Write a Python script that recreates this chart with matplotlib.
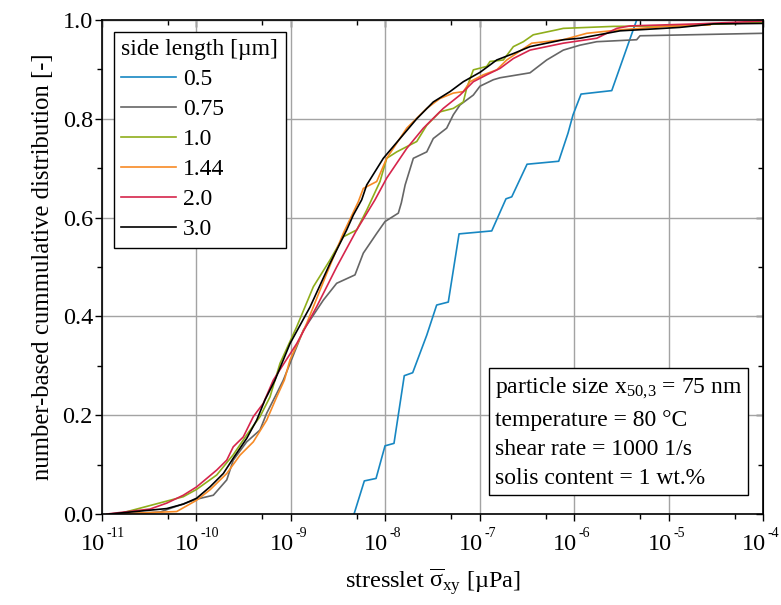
import numpy as np
import matplotlib.pyplot as plt
from matplotlib.ticker import LogLocator, MultipleLocator, FormatStrFormatter, NullFormatter
from matplotlib.transforms import blended_transform_factory, ScaledTranslation

plt.rcParams['font.family'] = 'Liberation Serif'
plt.rcParams['mathtext.fontset'] = 'custom'
plt.rcParams['mathtext.rm'] = 'Liberation Serif'
plt.rcParams['mathtext.it'] = 'Liberation Serif:italic'
plt.rcParams['mathtext.bf'] = 'Liberation Serif:bold'
plt.rcParams['axes.unicode_minus'] = False

FS = 17

# log10 of stresslet [uPa] and cumulative distribution, per side length
logx_05 = [-8.331, -8.222, -8.098, -8.003, -7.908, -7.799, -7.710, -7.561, -7.456, -7.333,
           -7.219, -6.873, -6.722, -6.661, -6.499, -6.164, -6.065, -6.012, -5.927, -5.602, -5.338]
cdf_05 = [0.0, 0.067, 0.072, 0.138, 0.143, 0.280, 0.286, 0.362, 0.423, 0.429,
          0.567, 0.573, 0.638, 0.642, 0.708, 0.714, 0.771, 0.808, 0.850, 0.857, 1.0]

logx_075 = [-10.76, -10.386, -9.997, -9.821, -9.679, -9.610, -9.468, -9.327, -9.256, -9.150,
            -9.080, -8.868, -8.656, -8.515, -8.321, -8.233, -8.091, -8.003, -7.862, -7.83,
            -7.79, -7.703, -7.561, -7.492, -7.350, -7.280, -7.209, -7.068, -6.997, -6.856,
            -6.785, -6.468, -6.291, -6.115, -5.938, -5.761, -5.338, -5.303, -4.0]
cdf_075 = [0.0, 0.004, 0.030, 0.038, 0.069, 0.109, 0.146, 0.170, 0.204, 0.244,
           0.271, 0.372, 0.433, 0.467, 0.484, 0.528, 0.568, 0.592, 0.609, 0.630,
           0.666, 0.720, 0.733, 0.760, 0.781, 0.808, 0.828, 0.848, 0.866, 0.879,
           0.883, 0.893, 0.919, 0.939, 0.949, 0.956, 0.960, 0.968, 0.973]

logx_10 = [-10.83, -10.139, -9.997, -9.785, -9.610, -9.468, -9.327, -9.221, -9.115, -8.938,
           -8.762, -8.586, -8.445, -8.303, -8.197, -8.056, -7.985, -7.879, -7.738, -7.667,
           -7.561, -7.421, -7.280, -7.174, -7.138, -7.068, -6.926, -6.891, -6.750, -6.644,
           -6.538, -6.433, -6.185, -6.115, -5.585, -5.020, -4.0]
cdf_10 = [0.0, 0.035, 0.050, 0.079, 0.120, 0.160, 0.197, 0.237, 0.305, 0.379,
          0.460, 0.514, 0.561, 0.575, 0.615, 0.673, 0.720, 0.733, 0.747, 0.754,
          0.787, 0.814, 0.821, 0.834, 0.862, 0.899, 0.906, 0.916, 0.919, 0.946,
          0.956, 0.970, 0.980, 0.983, 0.987, 0.988, 0.995]

logx_144 = [-10.86, -10.209, -9.997, -9.856, -9.679, -9.539, -9.398, -9.256, -9.150, -9.069,
            -9.009, -8.832, -8.620, -8.445, -8.286, -8.233, -8.091, -7.985, -7.773, -7.561,
            -7.421, -7.280, -7.174, -7.103, -6.962, -6.820, -6.714, -6.450, -6.115, -5.867,
            -5.514, -5.020, -4.561]
cdf_144 = [0.0, 0.005, 0.028, 0.049, 0.082, 0.119, 0.146, 0.190, 0.237, 0.271,
           0.312, 0.386, 0.487, 0.568, 0.632, 0.659, 0.673, 0.720, 0.781, 0.821,
           0.841, 0.852, 0.855, 0.875, 0.889, 0.899, 0.919, 0.953, 0.960, 0.973,
           0.980, 0.987, 0.990]

logx_20 = [-10.947, -10.492, -10.315, -10.139, -9.997, -9.891, -9.785, -9.679, -9.610, -9.504,
           -9.398, -9.292, -9.186, -8.938, -8.726, -8.515, -8.303, -8.109, -7.985, -7.773,
           -7.597, -7.386, -7.209, -7.068, -6.926, -6.785, -6.644, -6.468, -6.115, -5.761,
           -5.549, -5.409, -4.702, -4.103, -4.0]
cdf_20 = [0.0, 0.010, 0.022, 0.038, 0.055, 0.072, 0.089, 0.109, 0.136, 0.156,
          0.197, 0.224, 0.271, 0.345, 0.420, 0.500, 0.575, 0.636, 0.680, 0.740,
          0.781, 0.821, 0.848, 0.875, 0.889, 0.902, 0.922, 0.939, 0.953, 0.963,
          0.983, 0.988, 0.992, 0.997, 0.998]

logx_30 = [-10.92, -10.315, -10.139, -9.997, -9.856, -9.715, -9.610, -9.468, -9.362, -9.274,
           -9.168, -9.009, -8.797, -8.586, -8.409, -8.339, -8.250, -8.197, -8.021, -7.844,
           -7.667, -7.492, -7.315, -7.174, -6.997, -6.820, -6.644, -6.468, -6.291, -6.115,
           -5.938, -5.514, -5.232, -4.879, -4.526, -4.0]
cdf_30 = [0.0, 0.011, 0.020, 0.032, 0.055, 0.082, 0.113, 0.153, 0.190, 0.231,
          0.271, 0.345, 0.419, 0.507, 0.575, 0.605, 0.636, 0.666, 0.720, 0.760,
          0.800, 0.834, 0.855, 0.875, 0.894, 0.919, 0.932, 0.946, 0.953, 0.960,
          0.963, 0.978, 0.981, 0.985, 0.992, 0.993]

labels = ['0.5', '0.75', '1.0', '1.44', '2.0', '3.0']
colors = ['#1787c2', '#666666', '#8fae1b', '#f78a25', '#d6254c', '#000000']
series = [(logx_05, cdf_05), (logx_075, cdf_075), (logx_10, cdf_10),
          (logx_144, cdf_144), (logx_20, cdf_20), (logx_30, cdf_30)]
x_decades = [-11, -10, -9, -8, -7, -6, -5, -4]

fig = plt.figure(figsize=(7.81, 6.05), dpi=100)
ax = fig.add_axes([0.1306, 0.1504, 0.8464, 0.8166])

for (lx, c), lab, col in zip(series, labels, colors):
    ax.plot(10 ** np.array(lx), c, color=col, lw=1.2, label=lab)

ax.set_xscale('log')
ax.set_xlim(1e-11, 1e-4)
ax.set_ylim(0, 1)
ax.grid(True, which='major', color='#a3a3a3', lw=1.0)
ax.set_axisbelow(True)

ax.xaxis.set_major_locator(LogLocator(base=10, numticks=20))
ax.xaxis.set_minor_locator(LogLocator(base=10, subs=(5.0,), numticks=20))
ax.xaxis.set_major_formatter(NullFormatter())
ax.xaxis.set_minor_formatter(NullFormatter())
ax.yaxis.set_major_locator(MultipleLocator(0.2))
ax.yaxis.set_minor_locator(MultipleLocator(0.1))
ax.yaxis.set_major_formatter(FormatStrFormatter('%.1f'))
ax.tick_params(which='both', direction='out', labelsize=17.5, width=1, pad=1.5)
ax.tick_params(which='major', length=5)
ax.tick_params(which='minor', length=3.5)

# x tick labels as 10 with a small raised exponent
trans = blended_transform_factory(ax.transData, ax.transAxes)
for e in x_decades:
    ax.text(10.0 ** e, 0, '10', fontsize=17.5, ha='right', va='baseline', clip_on=False,
            transform=trans + ScaledTranslation(0.03, -0.36, fig.dpi_scale_trans))
    ax.text(10.0 ** e, 0, '-%d' % -e, fontsize=10, ha='left', va='baseline', clip_on=False,
            transform=trans + ScaledTranslation(0.045, -0.227, fig.dpi_scale_trans))

secx = ax.secondary_xaxis('top')
secx.xaxis.set_major_locator(LogLocator(base=10, numticks=20))
secx.xaxis.set_minor_locator(LogLocator(base=10, subs=(5.0,), numticks=20))
secx.xaxis.set_major_formatter(NullFormatter())
secx.xaxis.set_minor_formatter(NullFormatter())
secx.tick_params(which='both', direction='in', width=1)
secx.tick_params(which='major', length=5)
secx.tick_params(which='minor', length=3.5)

secy = ax.secondary_yaxis('right')
secy.yaxis.set_major_locator(MultipleLocator(0.2))
secy.yaxis.set_minor_locator(MultipleLocator(0.1))
secy.yaxis.set_major_formatter(NullFormatter())
secy.tick_params(which='both', direction='in', width=1)
secy.tick_params(which='major', length=5)
secy.tick_params(which='minor', length=3.5)

for sp in ax.spines.values():
    sp.set_linewidth(1.2)

ax.set_xlabel(r'stresslet $\overline{\mathrm{\sigma}}_{\mathrm{xy}}$ [µPa]', fontsize=17.5)
ax.xaxis.set_label_coords(0.5, -0.105)
ax.set_ylabel('number-based cummulative distribution [-]', fontsize=17.8, labelpad=6)

leg = ax.legend(title='side length [µm]', loc='upper left', fontsize=FS, title_fontsize=FS,
                frameon=True, fancybox=False, edgecolor='black', framealpha=1,
                handlelength=2.3, handletextpad=0.3, labelspacing=0.36, borderpad=0.32,
                borderaxespad=0.5)
leg.get_frame().set_linewidth(1.0)
leg._legend_box.align = 'left'

info = ('particle size x$_{50{,}3}$ = 75 nm\n'
        'temperature = 80 °C\n'
        'shear rate = 1000 1/s\n'
        'solis content = 1 wt.%')
ax.text(0.969, 0.05, info, transform=ax.transAxes, ha='right', va='bottom', fontsize=FS,
        linespacing=1.52, multialignment='left',
        bbox=dict(boxstyle='square,pad=0.25', fc='white', ec='black', lw=1.0))

fig.savefig('out.png', dpi=100)
